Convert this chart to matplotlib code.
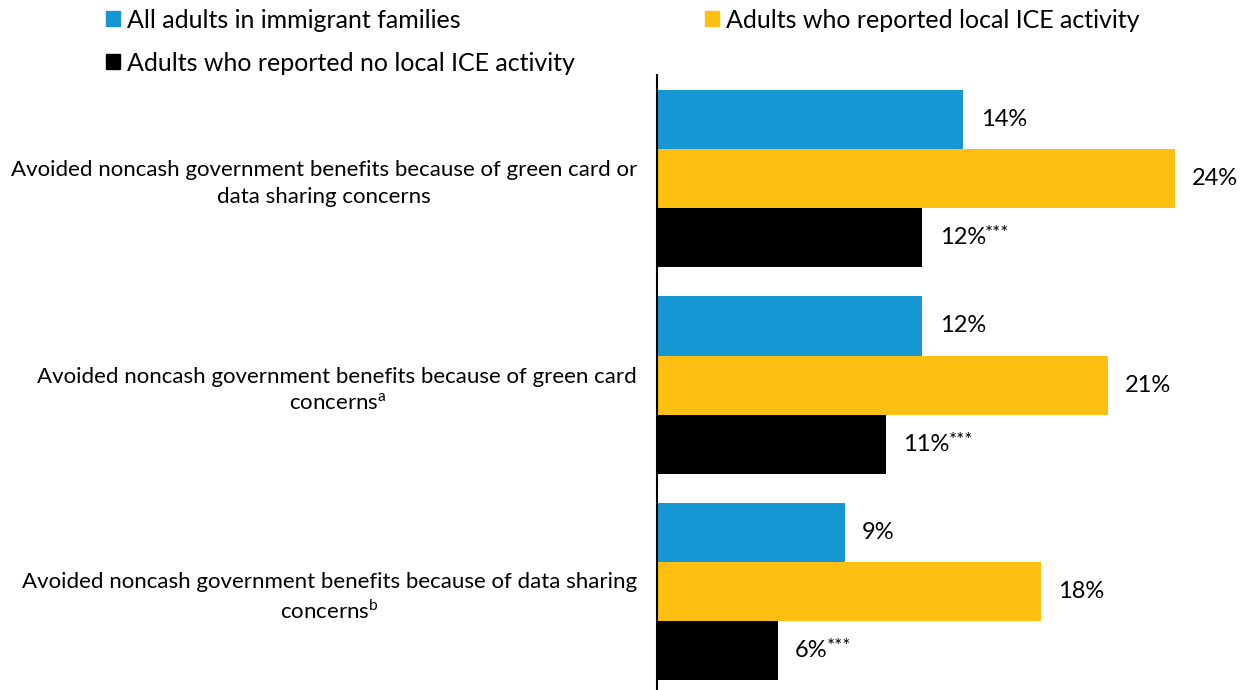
import matplotlib
matplotlib.use('Agg')
import matplotlib.pyplot as plt
from matplotlib.patches import Patch
import numpy as np

plt.rcParams['font.family'] = ['Lato', 'DejaVu Sans']
plt.rcParams['mathtext.fontset'] = 'custom'
plt.rcParams['mathtext.rm'] = 'Lato'

# data
categories = [
    'Avoided noncash government benefits because of green card or\ndata sharing concerns',
    'Avoided noncash government benefits because of green card\nconcerns$^{\\mathregular{a}}$',
    'Avoided noncash government benefits because of data sharing\nconcerns$^{\\mathregular{b}}$',
]
series_names = ['All adults in immigrant families',
                'Adults who reported local ICE activity',
                'Adults who reported no local ICE activity']
all_adults = [14.2, 12.3, 8.7]
ice_activity = [24.0, 20.9, 17.8]
no_ice_activity = [12.3, 10.6, 5.6]
all_labels = ['14%', '12%', '9%']
ice_labels = ['24%', '21%', '18%']
no_ice_labels = ['12%', '11%', '6%']

colors = ['#1696d2', '#fdbf11', '#000000']

fig = plt.figure(figsize=(12.41, 6.9), dpi=100)
ax = fig.add_axes([657 / 1241, 0.0, (1241 - 657) / 1241, (690 - 75) / 690])

y = np.arange(len(categories))
h = 0.286
series = [all_adults, ice_activity, no_ice_activity]
labels = [all_labels, ice_labels, no_ice_labels]
for i, (vals, labs) in enumerate(zip(series, labels)):
    pos = y + (i - 1) * h
    ax.barh(pos, vals, height=h, color=colors[i], label=series_names[i])
    for p, v, t in zip(pos, vals, labs):
        txt = ax.text(v + 0.8, p, t, va='center', ha='left', fontsize=17, color='black')
        if i == 2:
            # significance stars, small and raised
            ax.annotate('***', xy=(1, 1), xycoords=txt, xytext=(-0.5, 1.5),
                        textcoords='offset points', ha='left', va='top',
                        fontsize=13.5, color='black')

ax.set_xlim(0, (1241 - 657) / 21.58)
ax.set_ylim(2.475, -0.5)
ax.set_yticks(y)
ax.set_yticklabels(categories, fontsize=16, multialignment='center', linespacing=1.4)
ax.tick_params(axis='y', length=0, pad=14.4)
ax.set_xticks([])
for s in ['top', 'right', 'bottom']:
    ax.spines[s].set_visible(False)
ax.spines['left'].set_linewidth(1.5)

handles = [Patch(color=colors[0]), Patch(color=colors[2]), Patch(color=colors[1])]
names = [series_names[0], series_names[2], series_names[1]]
fig.legend(handles, names, ncol=2, loc='upper left', bbox_to_anchor=(83 / 1241, 1.02),
           frameon=False, fontsize=18, handlelength=0.56, handleheight=0.56,
           handletextpad=0.3, labelspacing=0.8, columnspacing=5.2)

fig.savefig('out.png', dpi=100)
